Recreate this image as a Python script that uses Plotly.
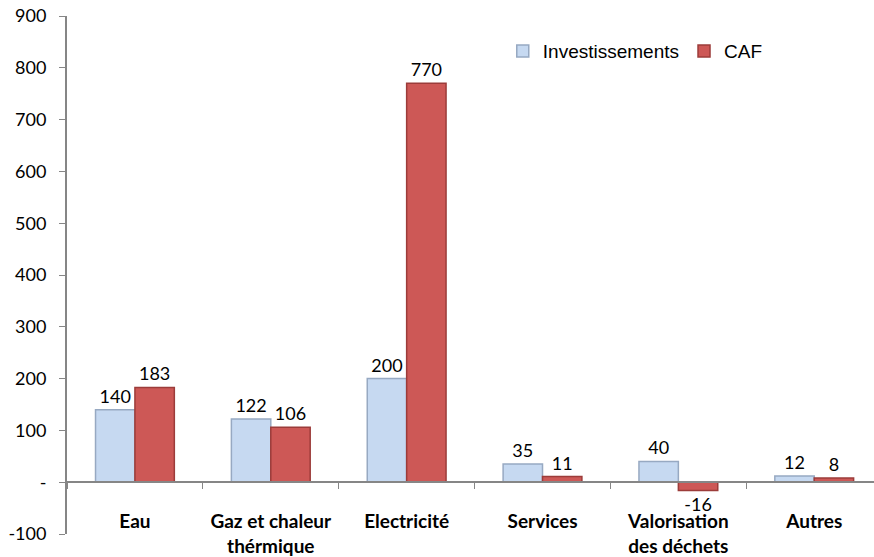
import plotly.graph_objects as go

categories = ["Eau", "Gaz et chaleur<br>thérmique", "Electricité", "Services", "Valorisation<br>des déchets", "Autres"]
investissements = [140, 122, 200, 35, 40, 12]
caf = [183, 106, 770, 11, -16, 8]
ytick_vals = [-100, 0, 100, 200, 300, 400, 500, 600, 700, 800, 900]
ytick_text = ["-100", "-", "100", "200", "300", "400", "500", "600", "700", "800", "900"]

label_font = dict(family="Lato, Carlito, sans-serif", size=18, color="#000000")

fig = go.Figure()
fig.add_trace(go.Bar(
    name="Investissements", x=categories, y=investissements,
    marker=dict(color="#C6D9F1", line=dict(color="#97A9C2", width=1.5)),
    text=[str(v) for v in investissements], textposition="outside",
    textfont=label_font, cliponaxis=False,
))
fig.add_trace(go.Bar(
    name="CAF", x=categories, y=caf,
    marker=dict(color="#CD5856", line=dict(color="#9C3C3A", width=1.5)),
    text=[str(v) for v in caf], textposition="outside",
    textfont=label_font, cliponaxis=False,
))

fig.update_layout(
    width=874, height=557,
    margin=dict(l=67, r=0, t=16, b=21),
    paper_bgcolor="white", plot_bgcolor="white",
    barmode="group", bargap=0.42, bargroupgap=0,
    showlegend=True,
    legend=dict(orientation="h", x=0.54, y=0.932, xanchor="left", yanchor="middle",
                font=dict(family="Liberation Sans, Arial, sans-serif", size=19, color="#000000"),
                itemwidth=30, bgcolor="rgba(0,0,0,0)", traceorder="normal"),
    xaxis=dict(
        range=[-0.5, 5.44], anchor="free", position=0.1,
        showline=True, linecolor="#868686", linewidth=2,
        ticks="outside", tickson="boundaries", ticklen=6, tickcolor="#868686", tickwidth=1,
        tickfont=dict(family="Lato, Carlito, sans-serif", size=19, color="#000000", weight="bold"),
        ticklabelstandoff=22, showgrid=False, zeroline=False,
    ),
    yaxis=dict(
        range=[-100, 900], tickvals=ytick_vals, ticktext=ytick_text,
        showline=True, linecolor="#868686", linewidth=2,
        ticks="outside", ticklen=6, tickcolor="#868686",
        tickfont=dict(family="Lato, Carlito, sans-serif", size=18, color="#000000"),
        showgrid=False, zeroline=False, ticklabelstandoff=9,
    ),
)

fig.write_html("out.html", config={"displayModeBar": False},
               post_script="document.body.style.margin='0';document.body.style.overflow='hidden';")
